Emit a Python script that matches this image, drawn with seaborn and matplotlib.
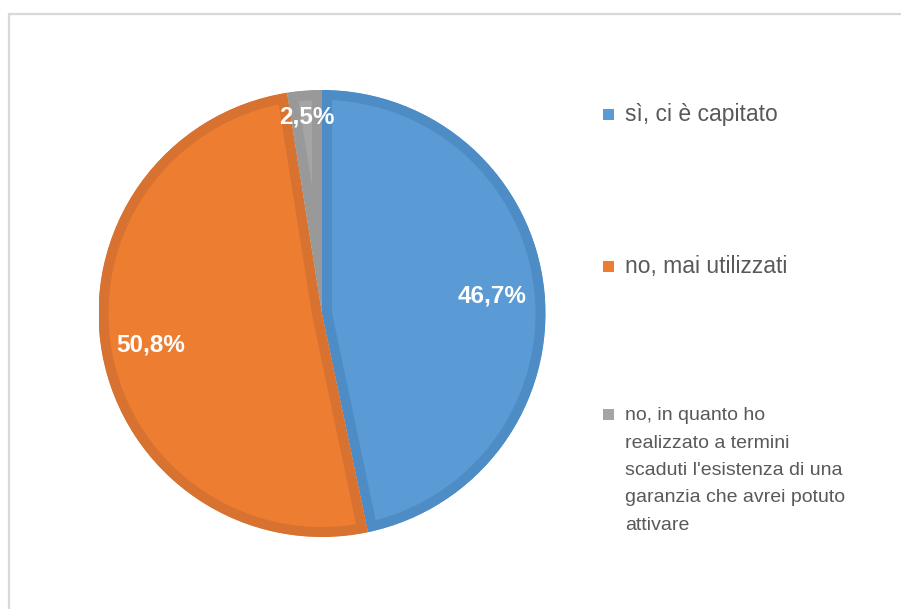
import numpy as np
import matplotlib
matplotlib.use("Agg")
import matplotlib.pyplot as plt
from matplotlib.patches import Rectangle
import seaborn as sns

sns.set_theme(style="white")
plt.rcParams["font.family"] = ["Liberation Sans", "DejaVu Sans"]

# Survey answers and their shares (percent)
categories = [
    "sì, ci è capitato",
    "no, mai utilizzati",
    "no, in quanto ho\nrealizzato a termini\nscaduti l'esistenza di una\ngaranzia che avrei potuto\nattivare",
]
shares = [46.7, 50.8, 2.5]
value_labels = ["46,7%", "50,8%", "2,5%"]

fill_colors = ["#5B9BD5", "#ED7D31", "#A5A5A5"]
edge_colors = ["#4E8CC6", "#D87230", "#999999"]
label_radius = [0.767, 0.78, 0.88]

W, H = 901, 609
fig = plt.figure(figsize=(W / 100, H / 100), dpi=100)

# chart-area frame (top and left sides visible)
fig.add_artist(Rectangle((8.5 / W, -0.05), 1.1, (H - 13.5) / H + 0.05,
                         transform=fig.transFigure, fill=False,
                         edgecolor="#D9D9D9", linewidth=1.6))

cx, cy, r = 322, 313.5, 223.5
ax = fig.add_axes([(cx - r) / W, (H - cy - r) / H, 2 * r / W, 2 * r / H])
wedges, _ = ax.pie(shares, colors=fill_colors, startangle=90, counterclock=False,
                   radius=1.0, wedgeprops=dict(linewidth=0))
ax.set_xlim(-1, 1)
ax.set_ylim(-1, 1)
ax.set_aspect("equal")
ax.axis("off")

# darker inner border on each slice (stroke clipped to the slice itself)
for w, ec in zip(wedges, edge_colors):
    w.set_edgecolor(ec)
    w.set_linewidth(14.4)
    w.set_joinstyle("miter")
    w.set_clip_path(w)
    w.set_clip_on(True)

for w, lab, d in zip(wedges, value_labels, label_radius):
    mid = np.deg2rad((w.theta1 + w.theta2) / 2)
    ax.text(d * np.cos(mid), d * np.sin(mid), lab, ha="center", va="center",
            color="white", fontsize=17.5, fontweight="bold")

# legend: square marker beside the first line, text anchored on its last baseline
legend_base = [121.5, 273, 421.5]
legend_size = [16.5, 16.5, 14]
line_pitch = 27
for cat, col, y, fs in zip(categories, fill_colors, legend_base, legend_size):
    fig.add_artist(Rectangle((603 / W, (H - y + 1.5) / H), 11 / W, 11 / H,
                             transform=fig.transFigure, facecolor=col,
                             edgecolor="none"))
    n_lines = cat.count("\n") + 1
    y_last = y + (n_lines - 1) * line_pitch
    fig.text(625 / W, (H - y_last) / H, cat, ha="left", va="baseline",
             fontsize=fs, color="#595959", linespacing=1.79)

fig.savefig("out.png", dpi=100)
